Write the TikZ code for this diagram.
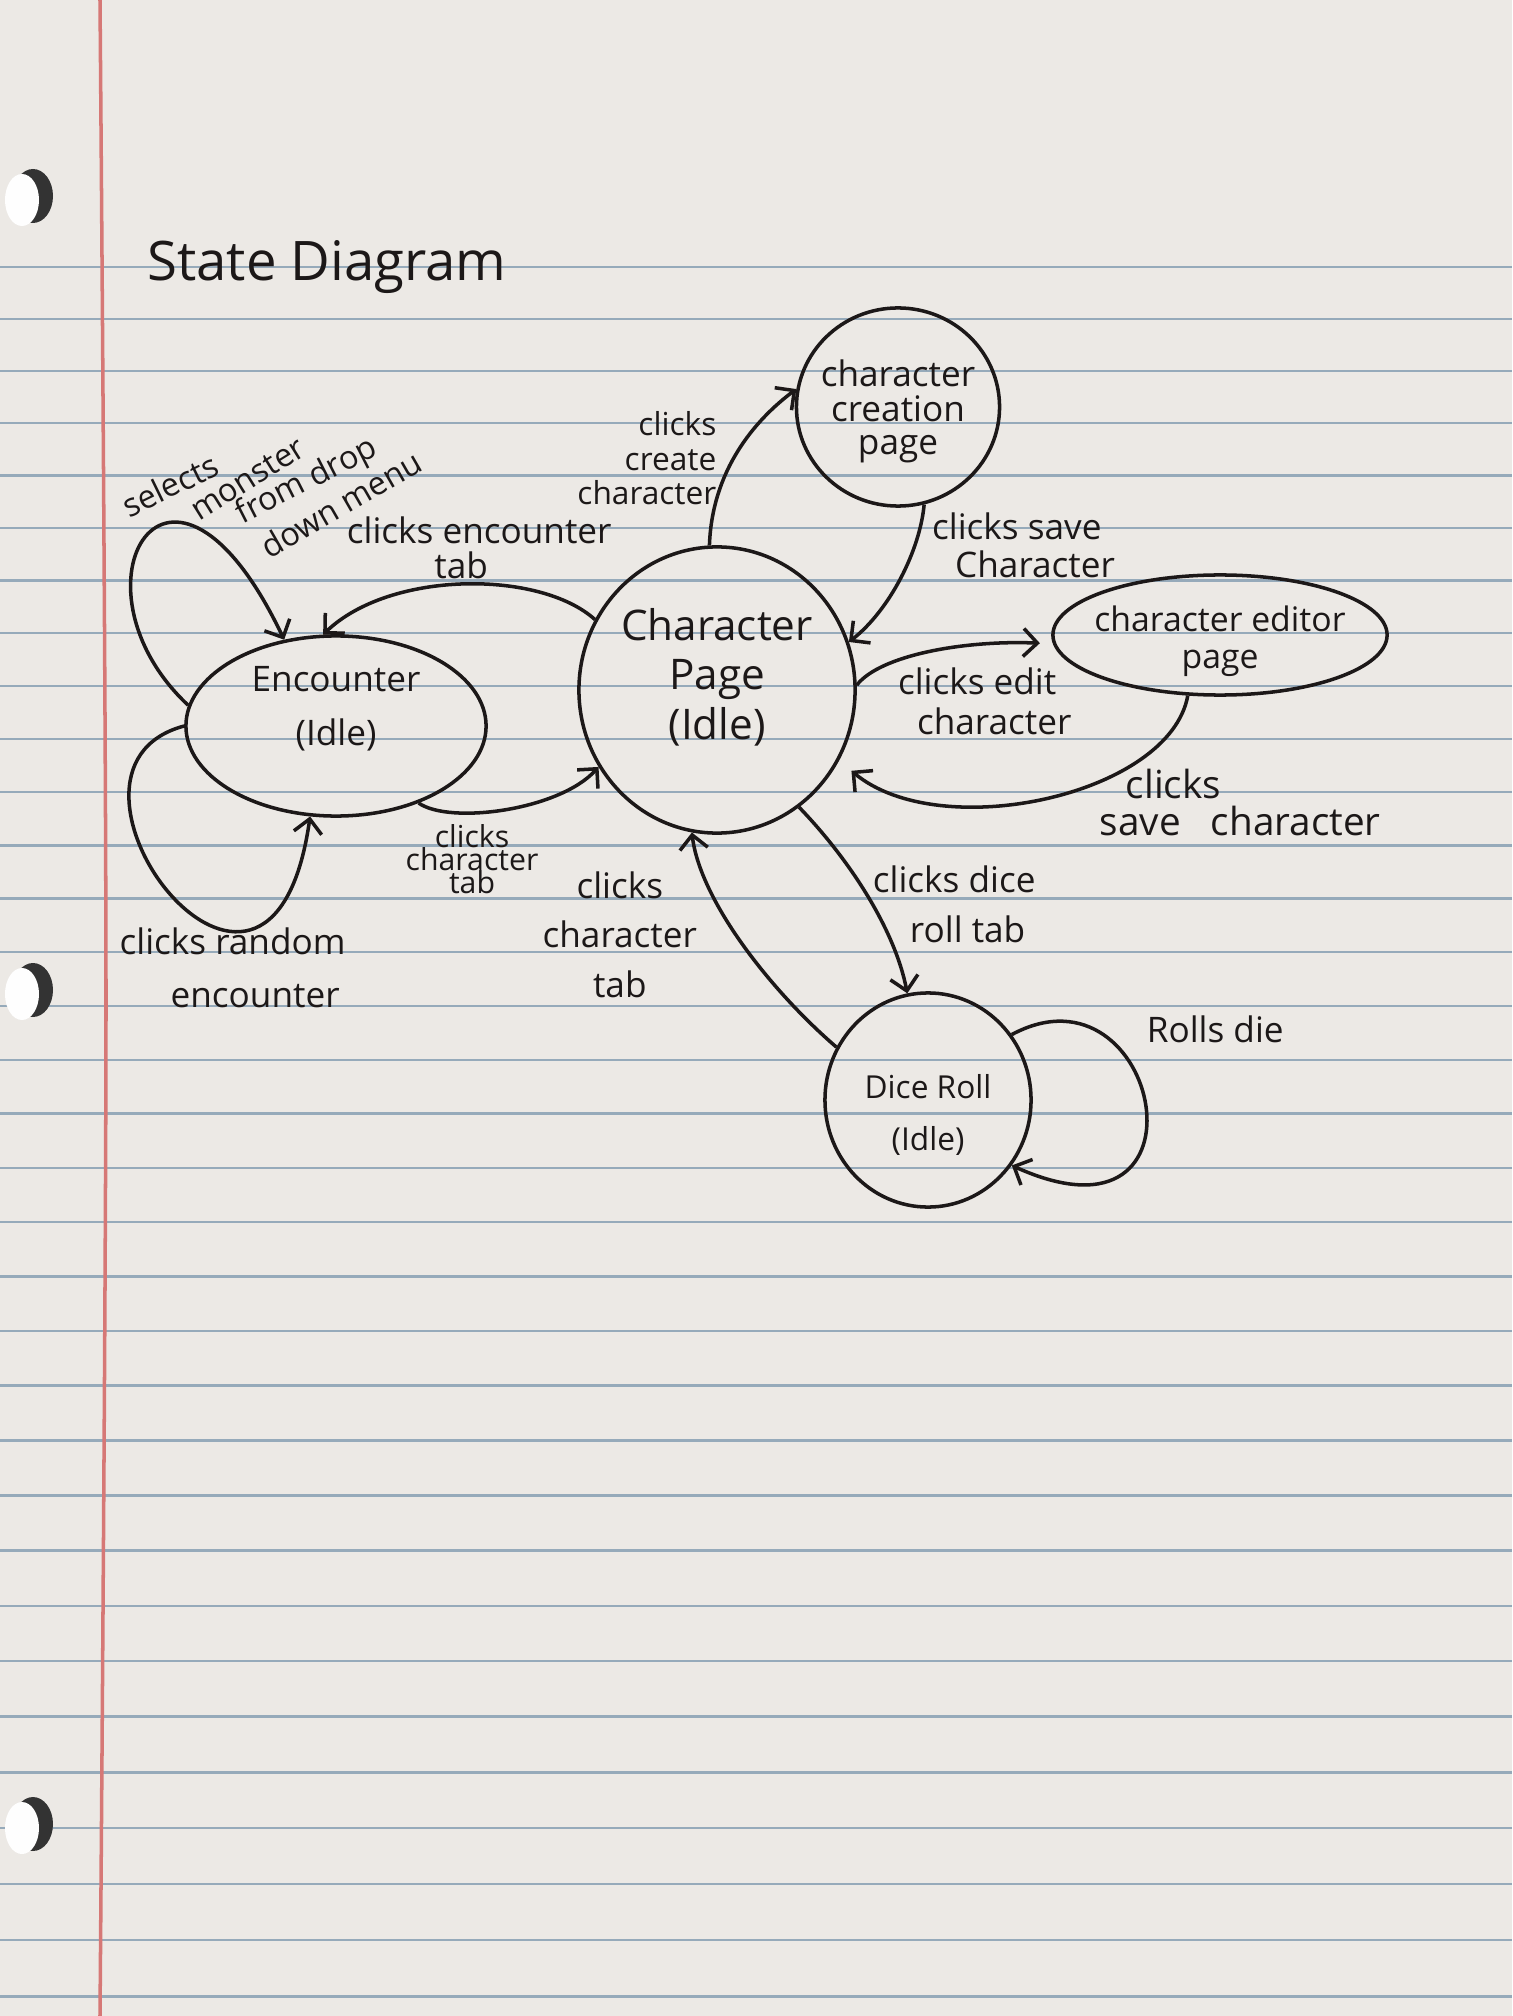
\documentclass[tikz,border=0pt]{standalone}
\usepackage{fontspec}
\setmainfont{Open Sans}
\usetikzlibrary{arrows.meta,shapes.geometric}

\definecolor{paper}{RGB}{236,233,229}
\definecolor{rule}{RGB}{150,170,186}
\definecolor{margin}{RGB}{214,120,118}
\definecolor{ink}{RGB}{28,24,24}

% state text, lifted inside its ellipse
\newcommand{\stext}[2]{\raisebox{#1}[\height][\depth]{\begin{tabular}{@{}c@{}}#2\end{tabular}}}

\begin{document}
\begin{tikzpicture}[x=0.01cm, y=-0.01cm,
    inkline/.style={draw=ink, line width=1pt},
    stnode/.style={draw=ink, line width=1pt, ellipse, inner sep=-4mm, text=ink},
    lbl/.style={text=ink, align=center, inner sep=1pt, font=\fontsize{10}{14}\selectfont},
    >={Straight Barb[length=1.4mm,width=2.8mm]}]
\useasboundingbox (0,0) rectangle (1512,2016);

% notebook paper
\fill[paper] (0,0) rectangle (1512,2016);
\foreach \k in {0,...,32}{
  \pgfmathsetmacro{\ry}{267+51.8*\k+0.07*\k*\k}
  \draw[rule, line width=0.7pt] (0,\ry) -- (1512,\ry);
}
\draw[margin, line width=1pt] plot[smooth] coordinates {(100,0) (106,1000) (100,2016)};
\foreach \hy in {196,990,1824}{
  \fill[black!80] (33,\hy) ellipse [x radius=20, y radius=27];
  \fill[white!96!paper] (22,\hy+4) ellipse [x radius=17, y radius=26];
}

\node[text=ink, font=\fontsize{15.5}{18}\selectfont] (title) at (327,267) {State Diagram};

% states
\node[stnode, minimum width=3cm, minimum height=1.8cm, font=\fontsize{10}{15.2}\selectfont] (enc) at (336,726) {\stext{1.8mm}{Encounter\\(Idle)}};
\node[stnode, minimum width=2.76cm, minimum height=2.86cm, font=\fontsize{12}{14.2}\selectfont] (cp) at (717,690) {\stext{1mm}{Character\\Page\\(Idle)}};
\node[stnode, minimum width=2.03cm, minimum height=1.98cm, font=\fontsize{10}{9.4}\selectfont] (cre) at (898,407) {\stext{-0.5mm}{character\\creation\\page}};
\node[stnode, minimum width=3.34cm, minimum height=1.2cm, font=\fontsize{9.6}{10.5}\selectfont] (edit) at (1220,635) {\stext{-0.8mm}{character editor\\page}};
\node[stnode, minimum width=2.06cm, minimum height=2.14cm, font=\fontsize{9}{14.8}\selectfont] (dice) at (928,1100) {\stext{-1.4mm}{Dice Roll\\(Idle)}};

% transitions
\draw[inkline, ->] (cp.93) .. controls (712,470) and (755,420) .. (cre.170)
  node[lbl, pos=0.45, left=1.2mm, align=right, font=\fontsize{9}{9.8}\selectfont] {clicks\\create\\character};
\draw[inkline, ->] (cre.-75) .. controls (920,550) and (890,610) .. (cp.20)
  node[lbl, pos=0.28, right=1.2mm, align=left, font=\fontsize{10}{10.8}\selectfont] {clicks save\\\hspace*{2.3mm}Character};
\draw[inkline, ->] (cp.150) .. controls (540,570) and (390,570) .. (enc.98)
  node[lbl, pos=0.45, above, font=\fontsize{10}{10}\selectfont] {clicks encounter\\tab\hspace*{3.6mm}};
\draw[inkline, ->] (enc.-43) .. controls (450,825) and (560,810) .. (cp.213)
  node[lbl, pos=0.3, below=0.6mm, xshift=0.8mm, font=\fontsize{8.6}{6.4}\selectfont] {clicks\\[-1pt]character\\[-1pt]tab};

% encounter loops
\draw[inkline, ->] (enc.172) .. controls (60,585) and (170,400) .. (enc.121);
\node[lbl, rotate=26, font=\fontsize{9.2}{10}\selectfont] (selA) at (170,485) {selects};
\node[lbl, rotate=32, font=\fontsize{9.2}{10}\selectfont] (selB) at (248,479) {monster};
\node[lbl, rotate=27, font=\fontsize{9.2}{10}\selectfont] (selC) at (307,482) {from drop};
\node[lbl, rotate=30, font=\fontsize{9.2}{10}\selectfont] (selD) at (341,504) {down menu};
\draw[inkline, ->] (enc.180) .. controls (20,770) and (270,1100) .. (enc.-106)
  node[lbl, pos=0.65, below=-0.5mm, xshift=1.5mm, font=\fontsize{10}{15}\selectfont] {clicks random\\\hspace*{4.5mm}encounter};

% editor
\draw[inkline, ->, shorten >=1.3mm] (cp.2) .. controls (880,655) and (965,640) .. (edit.183)
  node[lbl, pos=0.3, anchor=north west, align=left, font=\fontsize{10}{11.5}\selectfont] {clicks edit\\\hspace*{1.9mm}character};
\draw[inkline, ->, shorten >=1.6mm] (edit.-118) .. controls (1170,795) and (940,845) .. (cp.-30)
  node[lbl, pos=0.3, anchor=north west, xshift=-2.9mm, yshift=0.6mm, align=left, font=\fontsize{11}{10.5}\selectfont] {\hspace*{2.6mm}clicks\\save\hspace{3mm}character};

% dice
\draw[inkline, ->] (cp.-55) .. controls (850,860) and (895,930) .. (dice.101)
  node[lbl, pos=0.5, right=0pt, yshift=-0.8mm, align=left] {clicks dice\\\hspace*{3.7mm}roll tab};
\draw[inkline, ->] (dice.150) .. controls (770,990) and (700,900) .. (cp.-100)
  node[lbl, pos=0.5, left=4mm, yshift=0.9mm] {clicks\\character\\tab};
\draw[inkline, ->] (dice.38) .. controls (1160,955) and (1220,1260) .. (dice.-38)
  node[lbl, pos=0.3, right=2.5mm, yshift=1.6mm] {Rolls die};
\end{tikzpicture}
\end{document}
